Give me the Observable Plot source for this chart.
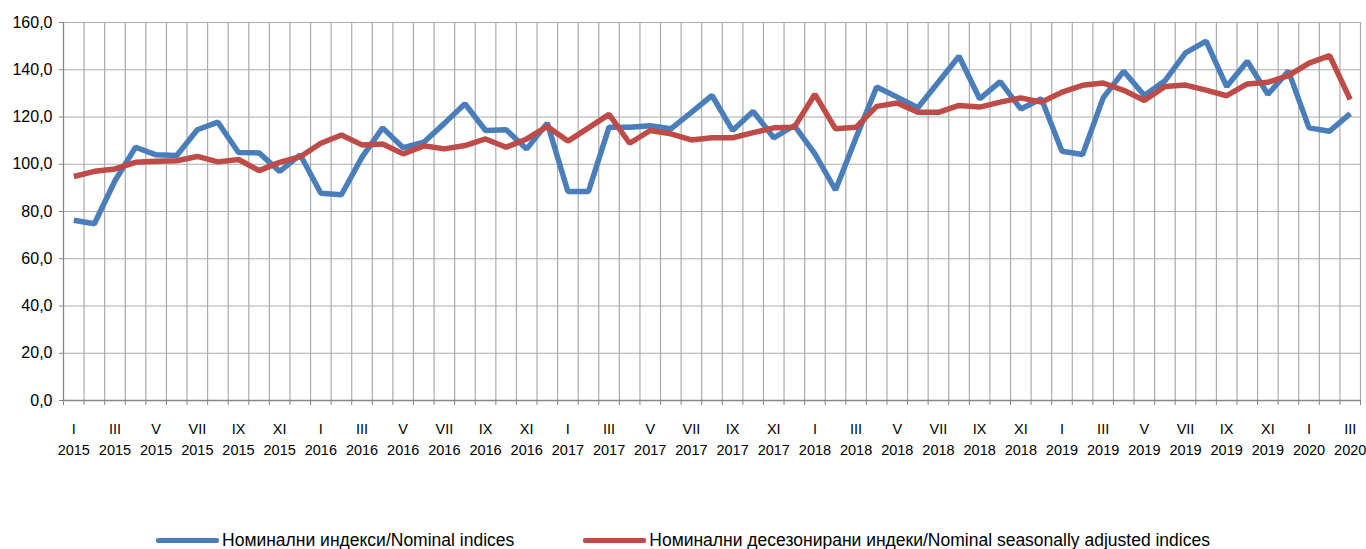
<!DOCTYPE html>
<html>
<head>
<meta charset="utf-8">
<script src="https://cdn.jsdelivr.net/npm/d3@7"></script>
<script src="https://cdn.jsdelivr.net/npm/@observablehq/plot@0.6"></script>
<style>
  html, body { margin: 0; padding: 0; background: #fff; }
  body { width: 1366px; height: 549px; overflow: hidden; font-family: "Liberation Sans", Arial, sans-serif; }
  #chart svg { display: block; }
  #legend { display: flex; justify-content: center; align-items: center; margin-top: 70px; font-size: 17.5px; color: #000; white-space: nowrap; }
  .item { display: flex; align-items: center; }
  .sw { display: inline-block; width: 63px; height: 5px; border-radius: 2px; margin-right: 3px; }
  .gap { width: 69px; }
</style>
</head>
<body>
<div id="chart"></div>
<div id="legend"></div>
<script>
const months = ["I","II","III","IV","V","VI","VII","VIII","IX","X","XI","XII"];
const years = [2015, 2016, 2017, 2018, 2019, 2020];
const seriesNames = ["Номинални индекси/Nominal indices", "Номинални десезонирани индеки/Nominal seasonally adjusted indices"];
const seriesColors = ["#4a7ebb", "#be4b48"];

const nominal = [
  76.3, 74.8, 93.0, 107.2, 104.0, 103.7, 114.6, 117.8, 105.0, 104.8, 97.0, 104.0,
  87.7, 87.1, 103.0, 115.4, 107.0, 109.3, 117.3, 125.6, 114.3, 114.6, 106.5, 117.4,
  88.5, 88.5, 115.7, 115.7, 116.3, 115.0, 122.0, 129.1, 114.3, 122.4, 111.2, 116.4,
  104.4, 89.1, 111.3, 132.7, 128.4, 123.9, 134.8, 145.7, 127.7, 135.0, 123.4, 127.7,
  105.5, 104.1, 128.1, 139.4, 129.1, 135.3, 147.1, 152.1, 132.9, 143.6, 129.6, 139.4,
  115.4, 114.0, 121.4
];
const adjusted = [
  94.8, 97.0, 98.0, 100.8, 101.3, 101.5, 103.3, 101.0, 102.0, 97.3, 100.8, 103.2,
  108.9, 112.4, 108.2, 108.6, 104.4, 107.8, 106.5, 107.9, 110.7, 107.2, 110.7, 116.0,
  109.8, 115.4, 121.1, 108.9, 114.3, 112.9, 110.3, 111.2, 111.2, 113.4, 115.4, 115.7,
  129.6, 115.0, 115.7, 124.5, 125.9, 122.0, 122.0, 124.9, 124.2, 126.3, 128.1, 126.3,
  130.5, 133.4, 134.4, 131.3, 127.0, 132.9, 133.5, 131.4, 129.0, 134.0, 134.7, 137.5,
  142.8, 146.0, 127.4
];
const yTicks = [0, 20, 40, 60, 80, 100, 120, 140, 160];

const n = nominal.length;
const cats = d3.range(n).map(i => ({i, label: months[i % 12] + "\n" + years[Math.floor(i / 12)]}));
const rows = [];
nominal.forEach((v, i) => rows.push({i, v, s: seriesNames[0]}));
adjusted.forEach((v, i) => rows.push({i, v, s: seriesNames[1]}));
const bounds = d3.range(n + 1).map(k => k - 0.5);
const labelIdx = cats.filter(c => c.i % 2 === 0).map(c => c.i);
const labelOf = new Map(cats.map(c => [c.i, c.label]));

const chart = Plot.plot({
  width: 1366,
  height: 460,
  marginLeft: 63,
  marginRight: 6,
  marginTop: 22,
  marginBottom: 60,
  style: {fontFamily: `"Liberation Sans", Arial, sans-serif`, fontSize: "16px", color: "#000", background: "#fff"},
  x: {type: "linear", domain: [-0.5, n - 0.5]},
  y: {domain: [0, 160]},
  color: {domain: seriesNames, range: seriesColors},
  marks: [
    Plot.ruleY(yTicks.filter(t => t > 0), {stroke: "#ababab", strokeWidth: 1.2}),
    Plot.ruleX(bounds.slice(1), {y1: 0, y2: 160, stroke: "#ababab", strokeWidth: 1.2}),
    Plot.ruleY([0], {stroke: "#868686", strokeWidth: 1.3}),
    Plot.ruleX([bounds[0]], {y1: 0, y2: 160, stroke: "#868686", strokeWidth: 1.3}),
    Plot.axisY({ticks: yTicks, tickSize: 4, tickPadding: 7, stroke: "#868686", tickFormat: d => d.toFixed(1).replace(".", ","), label: null, fontSize: 16}),
    Plot.axisX({ticks: bounds, tickSize: 5, tickFormat: () => "", stroke: "#868686", label: null}),
    Plot.axisX({ticks: labelIdx, tickSize: 0, tickPadding: 18, tickFormat: i => labelOf.get(i), lineHeight: 1.48, label: null, fontSize: 14.5}),
    Plot.line(rows, {x: "i", y: "v", z: "s", stroke: "s", strokeWidth: 5.5, strokeLinejoin: "miter", strokeLinecap: "butt"})
  ]
});
document.getElementById("chart").appendChild(chart);

const legend = document.getElementById("legend");
seriesNames.forEach((name, k) => {
  if (k > 0) { const g = document.createElement("span"); g.className = "gap"; legend.appendChild(g); }
  const item = document.createElement("span");
  item.className = "item";
  const sw = document.createElement("span");
  sw.className = "sw";
  sw.style.background = seriesColors[k];
  item.appendChild(sw);
  item.appendChild(document.createTextNode(name));
  legend.appendChild(item);
});
</script>
</body>
</html>
